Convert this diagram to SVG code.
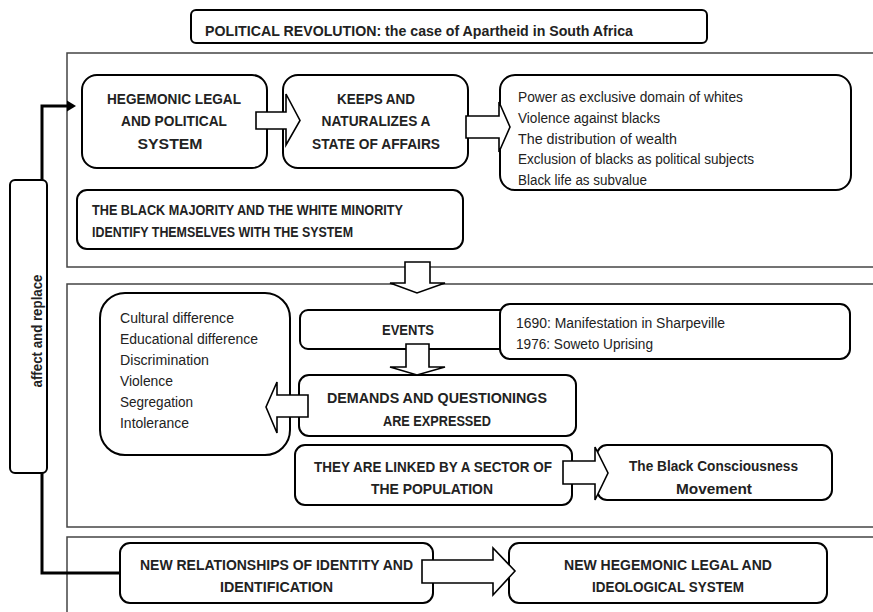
<svg xmlns="http://www.w3.org/2000/svg" width="873" height="612" viewBox="0 0 873 612">
<style>
.panel{fill:none;stroke:#444;stroke-width:1.5}
.node{fill:#fff;stroke:#000;stroke-width:2}
.b{font-family:"Liberation Sans",Arial,sans-serif;font-weight:bold;font-size:14.5px;fill:#222}
.r{font-family:"Liberation Sans",Arial,sans-serif;font-size:14px;fill:#222}
.c{text-anchor:middle}
.blk{fill:#fff;stroke:#000;stroke-width:1.6;stroke-linejoin:miter}
.thick{fill:none;stroke:#000;stroke-width:3}
</style>
<defs>
<marker id="ah" markerWidth="4" markerHeight="4" refX="1" refY="2" orient="auto" markerUnits="strokeWidth">
<path d="M0,0.2 L3,2 L0,3.8 Z" fill="#000"/>
</marker>
</defs>
<rect width="873" height="612" fill="#fff"/>
<g id="panels">
<rect class="panel" x="67" y="53" width="820" height="214"/>
<rect class="panel" x="67" y="284" width="820" height="243"/>
<rect class="panel" x="67" y="537" width="820" height="90"/>
</g>
<g id="title">
<rect class="node" x="191" y="10" width="516" height="33" rx="5"/>
<text class="b" x="205" y="36" font-size="15" textLength="428" lengthAdjust="spacingAndGlyphs">POLITICAL REVOLUTION: the case of Apartheid in South Africa</text>
</g>
<g id="affect">
<rect class="node" x="10" y="180" width="37" height="293" rx="5"/>
<text class="b c" transform="translate(42,331) rotate(-90)" textLength="113" lengthAdjust="spacingAndGlyphs">affect and replace</text>
</g>
<g id="hegemonic">
<rect class="node" x="82" y="75" width="185" height="93" rx="15"/>
<text class="b c" x="174" y="104" textLength="134" lengthAdjust="spacingAndGlyphs">HEGEMONIC LEGAL</text>
<text class="b c" x="174" y="126" textLength="106" lengthAdjust="spacingAndGlyphs">AND POLITICAL</text>
<text class="b c" x="170" y="149" textLength="65" lengthAdjust="spacingAndGlyphs">SYSTEM</text>
</g>
<g id="keeps">
<rect class="node" x="283" y="75" width="185" height="93" rx="15"/>
<text class="b c" x="376" y="104" textLength="78" lengthAdjust="spacingAndGlyphs">KEEPS AND</text>
<text class="b c" x="376" y="126" textLength="109" lengthAdjust="spacingAndGlyphs">NATURALIZES A</text>
<text class="b c" x="376" y="149" textLength="128" lengthAdjust="spacingAndGlyphs">STATE OF AFFAIRS</text>
</g>
<g id="affairs-list">
<rect class="node" x="500" y="75" width="351" height="115" rx="15"/>
<text class="r" x="518" y="102" textLength="225" lengthAdjust="spacingAndGlyphs">Power as exclusive domain of whites</text>
<text class="r" x="518" y="123" textLength="142" lengthAdjust="spacingAndGlyphs">Violence against blacks</text>
<text class="r" x="518" y="143.5" textLength="159" lengthAdjust="spacingAndGlyphs">The distribution of wealth</text>
<text class="r" x="518" y="164" textLength="236" lengthAdjust="spacingAndGlyphs">Exclusion of blacks as political subjects</text>
<text class="r" x="518" y="185" textLength="129" lengthAdjust="spacingAndGlyphs">Black life as subvalue</text>
</g>
<g id="majority">
<rect class="node" x="77" y="190" width="386" height="59" rx="10"/>
<text class="b" x="92" y="215" textLength="311" lengthAdjust="spacingAndGlyphs">THE BLACK MAJORITY AND THE WHITE MINORITY</text>
<text class="b" x="92" y="237" textLength="261" lengthAdjust="spacingAndGlyphs">IDENTIFY THEMSELVES WITH THE SYSTEM</text>
</g>
<g id="differences">
<rect class="node" x="100" y="293" width="190" height="162" rx="25"/>
<text class="r" x="120" y="323" textLength="114" lengthAdjust="spacingAndGlyphs">Cultural difference</text>
<text class="r" x="120" y="344" textLength="138" lengthAdjust="spacingAndGlyphs">Educational difference</text>
<text class="r" x="120" y="365" textLength="89" lengthAdjust="spacingAndGlyphs">Discrimination</text>
<text class="r" x="120" y="386" textLength="53" lengthAdjust="spacingAndGlyphs">Violence</text>
<text class="r" x="120" y="407" textLength="73" lengthAdjust="spacingAndGlyphs">Segregation</text>
<text class="r" x="120" y="428" textLength="69" lengthAdjust="spacingAndGlyphs">Intolerance</text>
</g>
<g id="events">
<rect class="node" x="300" y="310" width="220" height="39" rx="8"/>
<text class="b c" x="408" y="335" textLength="52" lengthAdjust="spacingAndGlyphs">EVENTS</text>
</g>
<g id="event-list">
<rect class="node" x="500" y="304" width="350" height="55" rx="10"/>
<text class="r" x="516" y="328" textLength="209" lengthAdjust="spacingAndGlyphs">1690: Manifestation in Sharpeville</text>
<text class="r" x="516" y="349" textLength="137" lengthAdjust="spacingAndGlyphs">1976: Soweto Uprising</text>
</g>
<g id="demands">
<rect class="node" x="299" y="375" width="277" height="61" rx="10"/>
<text class="b c" x="437" y="403" textLength="220" lengthAdjust="spacingAndGlyphs">DEMANDS AND QUESTIONINGS</text>
<text class="b c" x="437" y="426" textLength="108" lengthAdjust="spacingAndGlyphs">ARE EXPRESSED</text>
</g>
<g id="linked">
<rect class="node" x="295" y="445" width="277" height="60" rx="10"/>
<text class="b c" x="433" y="472" textLength="238" lengthAdjust="spacingAndGlyphs">THEY ARE LINKED BY A SECTOR OF</text>
<text class="b c" x="432" y="494" textLength="122" lengthAdjust="spacingAndGlyphs">THE POPULATION</text>
</g>
<g id="consciousness">
<rect class="node" x="597" y="445" width="235" height="55" rx="10"/>
<text class="b c" x="713.5" y="471" textLength="169" lengthAdjust="spacingAndGlyphs">The Black Consciousness</text>
<text class="b c" x="714" y="494" textLength="76" lengthAdjust="spacingAndGlyphs">Movement</text>
</g>
<g id="new-relationships">
<rect class="node" x="120" y="543" width="313" height="60" rx="10"/>
<text class="b c" x="276.5" y="570" textLength="273" lengthAdjust="spacingAndGlyphs">NEW RELATIONSHIPS OF IDENTITY AND</text>
<text class="b c" x="276.5" y="592" textLength="113" lengthAdjust="spacingAndGlyphs">IDENTIFICATION</text>
</g>
<g id="new-hegemonic">
<rect class="node" x="509" y="543" width="318" height="60" rx="10"/>
<text class="b c" x="668" y="570" textLength="208" lengthAdjust="spacingAndGlyphs">NEW HEGEMONIC LEGAL AND</text>
<text class="b c" x="668" y="592" textLength="152" lengthAdjust="spacingAndGlyphs">IDEOLOGICAL SYSTEM</text>
</g>
<g id="connectors">
<polyline class="thick" points="42,180 42,106 70,106" marker-end="url(#ah)"/>
<polyline class="thick" points="42,473 42,573 120,573"/>
<polygon class="blk" points="256,112 286,112 286,94 300,120.5 286,145 286,129 256,129"/>
<polygon class="blk" points="466,116 499,116 499,102 510,127 499,152 499,138 466,138"/>
<polygon class="blk" points="405,262 430,262 430,283 445,283 417,293 390,283 405,283"/>
<polygon class="blk" points="406,344 429,344 429,367 445,367 417,375 390,367 406,367"/>
<polygon class="blk" points="308,395 277,395 277,382 266,407 277,433 277,417 308,417"/>
<polygon class="blk" points="563,461 595,461 595,447 608,473 595,500 595,484 563,484"/>
<polygon class="blk" points="422,560 493,560 493,548 515,571 493,595 493,583 422,583"/>
</g>
</svg>
